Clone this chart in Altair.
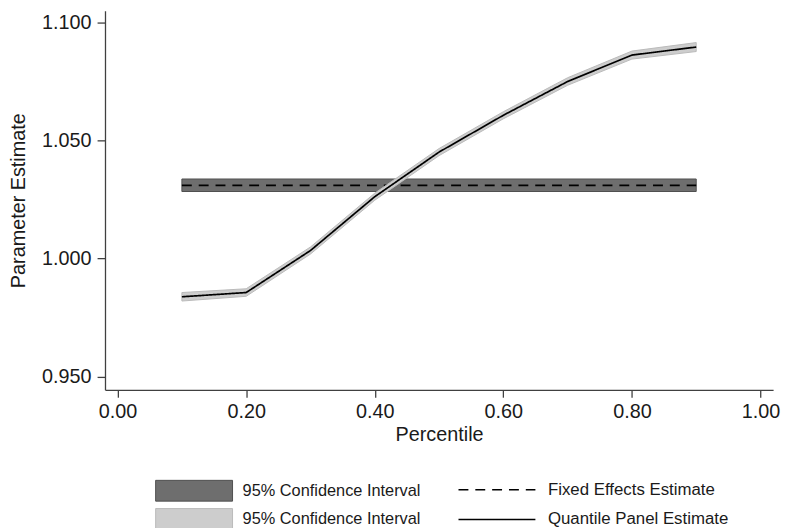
import altair as alt
import pandas as pd

# ---- data ----
percentiles = [0.1, 0.2, 0.3, 0.4, 0.5, 0.6, 0.7, 0.8, 0.9]
qr_estimate = [0.9838, 0.9856, 1.0034, 1.0262, 1.0451, 1.0607, 1.0750, 1.0862, 1.0896]
qr_lower = [0.9820, 0.9840, 1.0019, 1.0247, 1.0436, 1.0592, 1.0734, 1.0845, 1.0877]
qr_upper = [0.9856, 0.9872, 1.0049, 1.0277, 1.0466, 1.0622, 1.0766, 1.0879, 1.0915]

fe_range = [0.1, 0.9]
fe_estimate = 1.0310
fe_lower = 1.0284
fe_upper = 1.0337

ci_keys = ["FE CI", "Quantile CI"]
ci_fill = ["#6e6e6e", "#cdcdcd"]
ci_edge = ["#4f4f4f", "#bababa"]
series_names = ["Fixed Effects Estimate", "Quantile Panel Estimate"]
series_dash = [[10, 7], [1, 0]]

qr_df = pd.DataFrame({
    "pct": percentiles, "est": qr_estimate, "lo": qr_lower, "hi": qr_upper,
    "ci": ci_keys[1], "series": series_names[1],
})
fe_df = pd.DataFrame({
    "pct": fe_range, "est": [fe_estimate] * 2, "lo": [fe_lower] * 2, "hi": [fe_upper] * 2,
    "ci": ci_keys[0], "series": series_names[0],
})

FONT = "Liberation Sans"

x_enc = alt.X(
    "pct:Q",
    scale=alt.Scale(domain=[-0.0196, 1.0196], nice=False, zero=False),
    axis=alt.Axis(values=[0, 0.2, 0.4, 0.6, 0.8, 1.0], format=".2f", title="Percentile",
                  grid=False, tickSize=7.5, labelPadding=5, titlePadding=3),
)
y_scale = alt.Scale(domain=[0.9444, 1.1050], nice=False, zero=False)
y_axis = alt.Axis(values=[0.95, 1.0, 1.05, 1.1], format=".3f", title="Parameter Estimate",
                  grid=False, tickSize=8, labelPadding=6, titlePadding=13.5)

ci_legend = alt.Legend(
    title=None, orient="none", legendX=79, legendY=474, direction="vertical",
    symbolType="M-3.7,-1H3.7V1H-3.7Z", symbolSize=441, symbolStrokeWidth=1,
    symbolOffset=0, labelExpr="'95% Confidence Interval'", labelFontSize=16.5,
    labelOffset=38, rowPadding=2.5, padding=0, labelLimit=300, symbolOpacity=1,
)
fill_enc = alt.Fill("ci:N", scale=alt.Scale(domain=ci_keys, range=ci_fill), legend=ci_legend)
stroke_enc = alt.Stroke("ci:N", scale=alt.Scale(domain=ci_keys, range=ci_edge), legend=ci_legend)

dash_enc = alt.StrokeDash(
    "series:N",
    scale=alt.Scale(domain=series_names, range=series_dash),
    legend=alt.Legend(
        title=None, orient="none", legendX=384.5, legendY=472.5, direction="vertical",
        symbolType="M-3.7,0H3.7", symbolSize=441, symbolStrokeWidth=1.6,
        symbolStrokeColor="black", symbolFillColor="transparent", symbolOffset=0,
        labelFontSize=17, labelOffset=40, rowPadding=10, padding=0, labelLimit=300,
    ),
)


def band(df):
    return alt.Chart(df).mark_area(opacity=1, strokeWidth=1).encode(
        x=x_enc,
        y=alt.Y("lo:Q", scale=y_scale, axis=y_axis),
        y2="hi:Q",
        fill=fill_enc,
        stroke=stroke_enc,
    )


def line(df):
    return alt.Chart(df).mark_line(color="black", strokeWidth=1.7).encode(
        x=x_enc,
        y=alt.Y("est:Q", scale=y_scale, axis=y_axis),
        strokeDash=dash_enc,
    )


chart = alt.layer(band(fe_df), line(fe_df), band(qr_df), line(qr_df)).properties(
    width=675,
    height=383,
    autosize=alt.AutoSizeParams(type="none"),
    padding={"left": 98, "top": 0, "right": 10, "bottom": 145},
).configure_view(stroke=None).configure_axis(
    labelFont=FONT, titleFont=FONT, labelFontSize=20, titleFontSize=20,
    labelColor="#1a1a1a", titleColor="#1a1a1a", titleFontWeight="normal",
    domainColor="#404040", tickColor="#404040", domainWidth=1.3, tickWidth=1.3,
).configure_legend(
    labelFont=FONT, labelColor="#1a1a1a",
)

chart.save("out.html", embed_options={"renderer": "svg", "actions": False})
